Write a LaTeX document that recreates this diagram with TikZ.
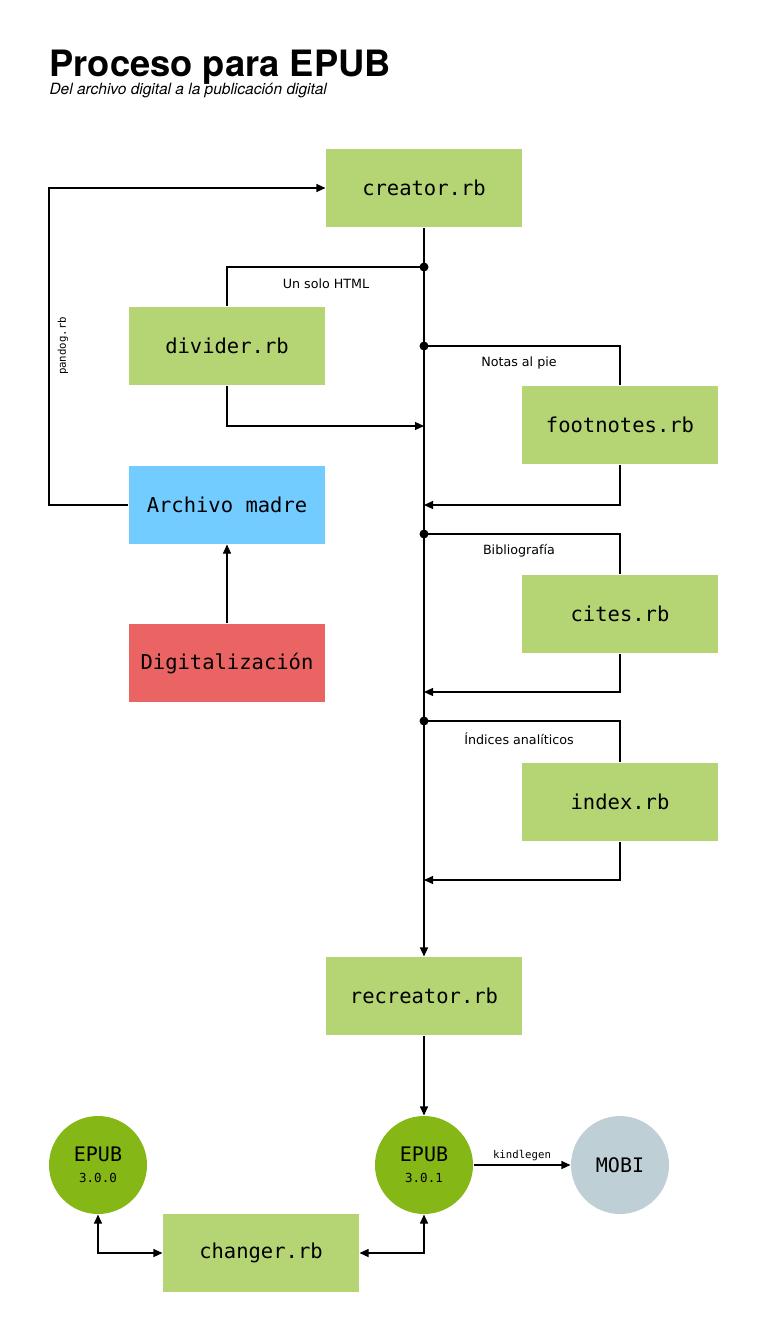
\documentclass[tikz,border=0pt]{standalone}
\usepackage{fontspec}
\usepackage{tikz}
\usetikzlibrary{arrows.meta}
\setmainfont{DejaVu Sans}
\newfontfamily\titlefont{TeX Gyre Heros}
\newfontfamily\codefont{DejaVu Sans Mono}
\definecolor{scriptgreen}{HTML}{B5D575}
\definecolor{epubgreen}{HTML}{85B717}
\definecolor{madreblue}{HTML}{72CCFF}
\definecolor{digired}{HTML}{EB6464}
\definecolor{mobigray}{HTML}{BECFD6}

\begin{document}
\begin{tikzpicture}[x=1pt, y=-1pt, line width=1.1pt, >={Triangle[length=9pt,width=8pt]}]
                \useasboundingbox (0,0) rectangle (768,1342);
                \node [anchor=base west, inner sep=0pt, font=\titlefont\bfseries\fontsize{36.3}{40}\selectfont] (Title) at (49,76) {Proceso para EPUB};
                \node [anchor=base west, inner sep=0pt, font=\titlefont\itshape\fontsize{15.5}{18}\selectfont] (Subtitle) at (49,94) {Del archivo digital a la publicación digital};
                \begin{scope}[every node/.style={minimum width=196pt, minimum height=78pt, inner sep=0pt, font=\codefont\fontsize{20.5}{24}\selectfont}]
                        \node [fill=scriptgreen] (Creator) at (424,188) {creator.rb};
                        \node [fill=scriptgreen] (Divider) at (227,346) {divider.rb};
                        \node [fill=scriptgreen] (Footnotes) at (620,425) {footnotes.rb};
                        \node [fill=madreblue] (Madre) at (227,505) {Archivo madre};
                        \node [fill=scriptgreen] (Cites) at (620,614) {cites.rb};
                        \node [fill=digired] (Digital) at (227,663) {Digitalización};
                        \node [fill=scriptgreen] (Index) at (620,802) {index.rb};
                        \node [fill=scriptgreen] (Recreator) at (424,996) {recreator.rb};
                        \node [fill=scriptgreen] (Changer) at (261,1253) {changer.rb};
                \end{scope}
                \begin{scope}[every node/.style={circle, minimum size=98pt, inner sep=0pt, align=center, font=\codefont\fontsize{20}{22}\selectfont}]
                        \node [fill=epubgreen] (EpubOld) at (98,1165) {EPUB\\[-1pt]{\fontsize{12.5}{14}\selectfont 3.0.0}};
                        \node [fill=epubgreen] (EpubNew) at (424,1165) {EPUB\\[-1pt]{\fontsize{12.5}{14}\selectfont 3.0.1}};
                        \node [fill=mobigray] (Mobi) at (620,1165) {MOBI};
                \end{scope}
                \coordinate (J1) at (424,267);
                \coordinate (J2) at (424,346);
                \coordinate (J3) at (424,534);
                \coordinate (J4) at (424,721);
                \coordinate (In1) at (424,426);
                \coordinate (In2) at (424,505);
                \coordinate (In3) at (424,692);
                \coordinate (In4) at (424,880);
                \coordinate (Corner) at (49,188);
                \begin{scope}[every node/.style={inner sep=0pt, font=\fontsize{12.7}{15}\selectfont}]
                        \draw[->] (Creator.south) -- (Recreator.north);
                        \draw (J1) -| (Divider.north);
                        \node (HtmlLabel) at (326,284) {Un solo HTML};
                        \draw[->] (Divider.south) |- (In1);
                        \draw (J2) -| (Footnotes.north);
                        \node (NotasLabel) at (519,363) {Notas al pie};
                        \draw[->] (Footnotes.south) |- (In2);
                        \draw (J3) -| (Cites.north);
                        \node (BiblioLabel) at (519,551) {Bibliografía};
                        \draw[->] (Cites.south) |- (In3);
                        \draw (J4) -| (Index.north);
                        \node (IndiceLabel) at (519,739) {Índices analíticos};
                        \draw[->] (Index.south) |- (In4);
                        \draw[->] (Madre.west) -| (Corner) -- (Creator.west);
                        \node [rotate=90, font=\codefont\fontsize{10.7}{13}\selectfont] (PandogLabel) at (63,346) {pandog.rb};
                        \draw[->] (Digital.north) -- (Madre.south);
                        \draw[->] (Recreator.south) -- (EpubNew.north);
                        \draw[->] (EpubNew.east) -- node [above=4pt, font=\codefont\fontsize{10.7}{13}\selectfont] {kindlegen} (Mobi.west);
                        \draw[<->] (EpubOld.south) |- (Changer.west);
                        \draw[<->] (Changer.east) -| (EpubNew.south);
                \end{scope}
                \foreach \j in {J1,J2,J3,J4}
                        \fill (\j) circle (4.5pt);
        \end{tikzpicture}
\end{document}
